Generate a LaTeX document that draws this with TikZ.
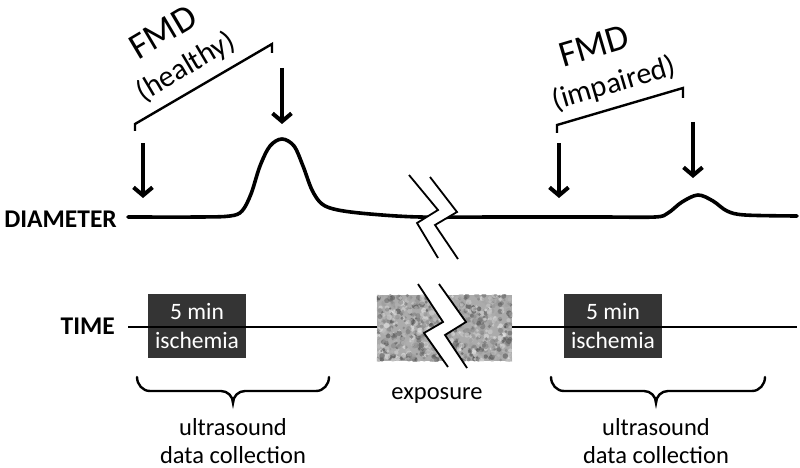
\documentclass[tikz,border=0pt]{standalone}
\usepackage{fontspec}
\setmainfont{Carlito}
\usetikzlibrary{arrows.meta}
\definecolor{boxgray}{RGB}{52,52,52}
\begin{document}
\begin{tikzpicture}[x=1pt,y=-1pt,
  curve/.style={line width=3.6pt, line cap=round, line join=round},
  timeline/.style={line width=2.6pt},
  downarrow/.style={line width=3.6pt, -{Straight Barb[length=8pt,width=19pt,line width=4pt]}},
  bracketline/.style={line width=2.4pt, line join=miter},
  bracebar/.style={line width=2.4pt, line cap=round},
  breakline/.style={line width=1.8pt, line join=miter},
  ischbox/.style={fill=boxgray, draw=none, minimum width=98pt, minimum height=64pt, inner sep=0pt},
  ischtext/.style={text=white, font=\fontsize{23.5}{29}\selectfont, align=center, inner sep=0pt},
  axislabel/.style={font=\fontsize{25.5}{30}\selectfont\bfseries, anchor=east, inner sep=0pt},
  bottomtext/.style={font=\fontsize{24.5}{28}\selectfont, align=center, inner sep=0pt},
  fmdbig/.style={font=\fontsize{37}{40}\selectfont, inner sep=0pt},
  fmdsmall/.style={font=\fontsize{30}{32}\selectfont, inner sep=0pt}
]
\useasboundingbox (0,0) rectangle (800,468);

% axis labels
\node[axislabel] (diamlab) at (117,219) {DIAMETER};
\node[axislabel] (timelab) at (115,326) {TIME};

% ischemia boxes
\node[ischbox] (box1) at (197,326) {};
\node[ischbox] (box2) at (613,326) {};

% diameter curve
\draw[curve] plot[smooth, tension=0.55] coordinates {
 (128,217) (200,217) (230,216) (242,211) (251,194) (260,166) (270,146) (282,139)
 (294,146) (303,166) (312,190) (322,204) (338,210) (370,214) (420,217) (500,217)
 (600,217) (655,217) (668,213) (682,202) (698,195) (713,201) (727,211) (745,215) (797,216)};

% time line
\draw[timeline] (128,327) -- (797,327);

% exposure noise box
\node[inner sep=0pt, minimum width=135pt, minimum height=66pt] (expbox) at (444.5,328) {};
\begin{scope}
\clip (expbox.north west) rectangle (expbox.south east);
\fill[black!33] (expbox.north west) rectangle (expbox.south east);
\pgfmathsetseed{11}
\foreach \k in {1,...,900}{
  \pgfmathsetmacro\cx{377+135*rnd}
  \pgfmathsetmacro\cy{295+66*rnd}
  \pgfmathsetmacro\rr{1.2+1.8*rnd}
  \pgfmathsetmacro\g{int(5+70*rnd)}
  \fill[black!\g, opacity=0.55] (\cx,\cy) circle[radius=\rr];
}
\end{scope}

% break marks
\fill[white] (409,175) -- (438,210) -- (417,223) -- (438,258) -- (458,259) -- (435,225) -- (457,212) -- (430,177) -- cycle;
\draw[breakline] (409,175) -- (438,210) -- (417,223) -- (438,258);
\draw[breakline] (430,177) -- (457,212) -- (435,225) -- (458,259);
\fill[white] (418,284) -- (443,322) -- (424,333) -- (448,367) -- (467,368) -- (445,335) -- (466,322) -- (439,284) -- cycle;
\draw[breakline] (418,284) -- (443,322) -- (424,333) -- (448,367);
\draw[breakline] (439,284) -- (466,322) -- (445,335) -- (467,368);

% box texts
\node[ischtext] (t1) at (box1.center) {5 min\\ischemia};
\node[ischtext] (t2) at (box2.center) {5 min\\ischemia};

% arrows
\coordinate (a1s) at (143,143); \coordinate (a1e) at (143,198);
\coordinate (a2s) at (282,68);  \coordinate (a2e) at (282,124);
\coordinate (a3s) at (559,143); \coordinate (a3e) at (559,198);
\coordinate (a4s) at (693,122); \coordinate (a4e) at (693,178);
\draw[downarrow] (a1s) -- (a1e);
\draw[downarrow] (a2s) -- (a2e);
\draw[downarrow] (a3s) -- (a3e);
\draw[downarrow] (a4s) -- (a4e);

% FMD brackets
\draw[bracketline] (135,131) -- (135,124) -- (272,44) -- (272,53);
\draw[bracketline] (557,133) -- (557,125) -- (683,88) -- (683,98);

% FMD labels
\node[fmdbig, rotate=30.6] (fmd1) at (163,32) {FMD};
\node[fmdsmall, rotate=30.6] (hl1) at (186,67) {(healthy)};
\node[fmdbig, rotate=16.4] (fmd2) at (594,46) {FMD};
\node[fmdsmall, rotate=16.4] (hl2) at (614,84) {(impaired)};

% braces
\draw[bracebar] (137,377) to[out=-90,in=180] (150,391) -- (221,391) to[out=0,in=90] (233,403)
  to[out=90,in=180] (245,391) -- (316,391) to[out=0,in=-90] (329,377);
\draw[bracebar] (551,377) to[out=-90,in=180] (564,391) -- (644,391) to[out=0,in=90] (656,403)
  to[out=90,in=180] (668,391) -- (752,391) to[out=0,in=-90] (765,377);

% bottom texts
\node[bottomtext] (exp) at (437,396) {exposure};
\node[bottomtext] (us1) at (233,441) {ultrasound\\data collection};
\node[bottomtext] (us2) at (656,441) {ultrasound\\data collection};
\end{tikzpicture}
\end{document}
